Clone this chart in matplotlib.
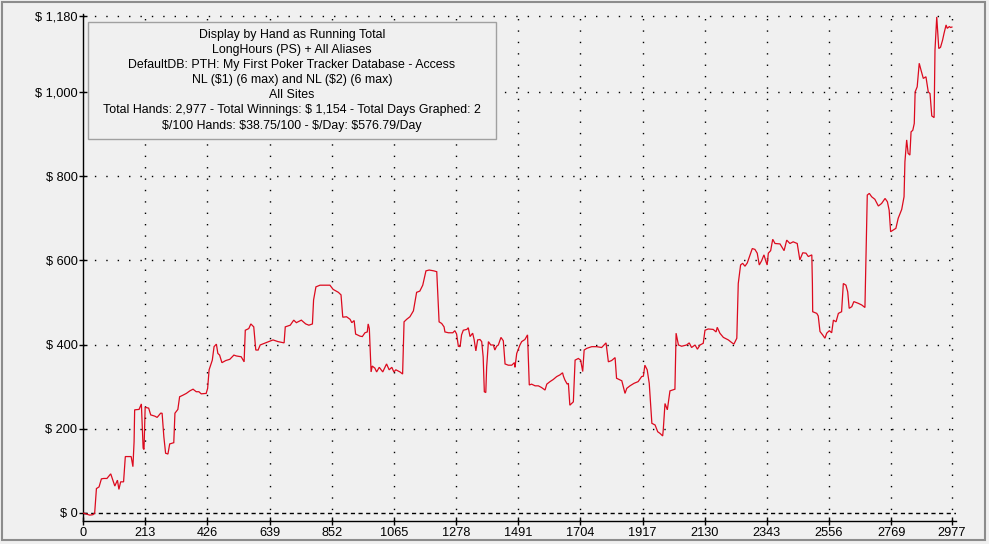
import matplotlib
matplotlib.use("Agg")
import matplotlib.pyplot as plt
from matplotlib.patches import Rectangle

hands = [0, 23, 34, 40, 46, 55, 63, 71, 82, 95, 109, 118, 123, 129, 139, 145, 165, 171, 175, 177,
         192, 200, 206, 209, 213, 225, 232, 246, 254, 266, 271, 277, 283, 291, 297, 311, 315, 325, 331, 343,
         354, 366, 377, 388, 397, 405, 422, 427, 432, 443, 449, 457, 462, 468, 476, 489, 503, 517, 525, 542,
         552, 556, 568, 575, 585, 592, 600, 607, 622, 637, 651, 668, 689, 693, 710, 722, 731, 748, 763, 774,
         786, 790, 798, 812,
         846, 857, 875, 884, 890, 903, 915, 921, 929, 934, 949, 957, 966, 974, 977, 981, 987, 991, 1000, 1006,
         1015, 1027, 1040, 1049, 1058, 1065, 1072, 1086, 1095, 1100, 1109, 1120, 1132, 1143, 1154, 1164, 1175, 1186, 1202, 1212,
         1220, 1229, 1237, 1240, 1252, 1267, 1274, 1280, 1286, 1292, 1297, 1303, 1315, 1320, 1326, 1335, 1340, 1346, 1352, 1360,
         1366, 1371, 1375, 1380, 1383, 1389, 1397, 1406, 1411, 1417, 1423, 1432, 1440, 1446, 1457, 1469, 1478, 1480, 1486, 1497,
         1503, 1514, 1523, 1529, 1537, 1549, 1560, 1571, 1583, 1589, 1600, 1611, 1623, 1634, 1643, 1646, 1651, 1659, 1663,
         1668, 1680, 1686, 1697, 1705, 1712, 1717, 1726, 1743, 1760, 1777, 1792, 1800, 1811, 1823, 1828, 1846, 1857, 1863, 1874,
         1888, 1902, 1914, 1920, 1925, 1933, 1940, 1945, 1949, 1960, 1969, 1977, 1986, 1988, 1994, 2002, 2011, 2028, 2032, 2040,
         2051, 2068, 2077, 2085, 2097, 2105, 2114, 2125, 2131, 2142, 2159, 2169, 2173, 2182, 2194, 2211, 2222, 2230, 2240, 2245,
         2253, 2260, 2268, 2276, 2285, 2293, 2302, 2310, 2317, 2325, 2333, 2340, 2344, 2348, 2356, 2363, 2371, 2388,
         2402, 2411, 2422, 2433, 2447, 2456, 2466, 2477, 2485, 2497, 2499, 2500, 2514, 2519, 2525, 2534, 2542, 2548, 2557, 2565,
         2571, 2580, 2588, 2599, 2605, 2614, 2620, 2625, 2634, 2641, 2656, 2668, 2679, 2683, 2687, 2694, 2702, 2713, 2725, 2736,
         2748, 2756, 2762, 2767, 2776, 2785, 2793, 2805, 2813, 2816, 2822, 2827, 2833, 2837, 2843, 2848, 2851, 2858, 2865, 2871,
         2879, 2888, 2896, 2902, 2908, 2916, 2919, 2925, 2928, 2932, 2938, 2945, 2950, 2957, 2961, 2968, 2973, 2977]

winnings = [0, -5, -4, 0, 58, 62, 81, 82, 82, 93, 64, 78, 56, 74, 74, 134, 134, 110, 169, 245,
            246, 259, 154, 151, 251, 249, 233, 230, 227, 237, 237, 181, 142, 140, 164, 167, 237, 246, 276, 280,
            284, 290, 294, 288, 288, 283, 284, 296, 340, 363, 395, 401, 379, 375, 357, 362, 365, 375, 373, 371,
            359, 434, 438, 449, 442, 387, 387, 399, 403, 407, 411, 407, 404, 442, 446, 458, 452, 458, 449, 446,
            449, 506, 537, 541,
            541, 531, 524, 518, 465, 466, 460, 452, 457, 425, 420, 419, 428, 430, 449, 438, 335, 349, 344, 335,
            346, 335, 354, 340, 346, 335, 340, 335, 330, 454, 460, 466, 480, 524, 527, 541, 575, 577, 575, 573,
            454, 450, 442, 430, 428, 428, 433, 425, 396, 395, 423, 434, 436, 440, 419, 427, 412, 385, 411, 412,
            407, 371, 288, 286, 347, 407, 399, 399, 387, 396, 399, 417, 409, 354, 351, 351, 357, 346, 379, 399,
            407, 412, 423, 304, 306, 302, 302, 298, 292, 306, 312, 317, 324, 328, 333, 325, 316, 306, 308,
            256, 264, 363, 367, 363, 336, 387, 391, 395, 395, 393, 404, 359, 362, 369, 320, 314, 284, 296, 302,
            308, 312, 324, 325, 351, 340, 308, 256, 213, 209, 193, 189, 183, 197, 260, 245, 290, 294, 427, 399,
            396, 399, 404, 393, 399, 389, 399, 403, 434, 437, 436, 430, 441, 427, 417, 411, 405, 401, 415, 545,
            589, 593, 586, 594, 612, 628, 626, 617, 589, 599, 613, 597, 589, 617, 623, 650, 640, 639,
            623, 648, 640, 644, 640, 601, 618, 617, 609, 613, 545, 478, 474, 468, 431, 423, 415, 427, 433, 428,
            458, 454, 474, 478, 545, 541, 525, 486, 490, 502, 498, 494, 488, 617, 755, 759, 751, 745, 729, 735,
            747, 739, 719, 668, 672, 676, 700, 721, 751, 834, 886, 854, 850, 905, 909, 925, 1000, 1012, 1068, 1052,
            1032, 1036, 1000, 996, 943, 939, 1099, 1178, 1147, 1103, 1106, 1123, 1139, 1159, 1151, 1155, 1153, 1154]

x_ticks = [0, 213, 426, 639, 852, 1065, 1278, 1491, 1704, 1917, 2130, 2343, 2556, 2769, 2977]
y_ticks = [0, 200, 400, 600, 800, 1000, 1180]
y_labels = ["$ 0", "$ 200", "$ 400", "$ 600", "$ 800", "$ 1,000", "$ 1,180"]

info_lines = [
    "Display by Hand as Running Total",
    "LongHours (PS) + All Aliases",
    "DefaultDB: PTH: My First Poker Tracker Database - Access",
    "NL ($1) (6 max) and NL ($2) (6 max)",
    "All Sites",
    "Total Hands: 2,977 - Total Winnings: $ 1,154 - Total Days Graphed: 2",
    "$/100 Hands: $38.75/100 - $/Day: $576.79/Day",
]

plt.rcParams['font.family'] = ['Liberation Sans', 'DejaVu Sans']
plt.rcParams['text.parse_math'] = False

BG = '#F0F0F0'
fig = plt.figure(figsize=(9.89, 5.44), dpi=100, facecolor=BG)
W, H = 989, 544
ax = fig.add_axes([83 / W, 23 / H, 873 / W, 507 / H])
ax.set_facecolor(BG)

ax.set_xlim(0, 2991)
ax.set_ylim(-19, 1185)

# grid
for yv in y_ticks:
    if yv == 0:
        ax.axhline(yv, color='black', lw=1.0, dashes=(3, 2.5), zorder=1)
    else:
        ax.axhline(yv, color='black', lw=1.0, dashes=(1, 7.2), zorder=1)
for xv in x_ticks[1:]:
    ax.axvline(xv, color='black', lw=1.0, dashes=(1, 7.2), zorder=1)

ax.plot(hands, winnings, color='#DC0A1E', lw=0.9, zorder=3, solid_joinstyle='miter')

for s in ['top', 'right']:
    ax.spines[s].set_visible(False)
for s in ['left', 'bottom']:
    ax.spines[s].set_color('black')
    ax.spines[s].set_linewidth(1.0)

ax.set_xticks(x_ticks)
ax.set_xticklabels([str(v) for v in x_ticks])
ax.set_yticks(y_ticks)
ax.set_yticklabels(y_labels)
ax.tick_params(axis='both', direction='inout', length=6, width=1, color='black',
               labelsize=9.2, pad=1, labelcolor='black')

# info box
box = Rectangle((88 / W, 1 - 139 / H), 408 / W, 117 / H, transform=fig.transFigure,
                facecolor=BG, edgecolor='#A0A0A0', lw=1.0, zorder=5)
fig.add_artist(box)
for i, line in enumerate(info_lines):
    fig.text(292 / W, 1 - (35 + 15.1 * i) / H, line, ha='center', va='center',
             fontsize=8.9, color='black', zorder=6)

# outer frame
frame = Rectangle((1.5 / W, 4 / H), 983 / W, 538.5 / H, transform=fig.transFigure,
                  facecolor='none', edgecolor='#8C8C8C', lw=1.5, zorder=10)
fig.add_artist(frame)

fig.savefig('out.png', dpi=100, facecolor=BG)
